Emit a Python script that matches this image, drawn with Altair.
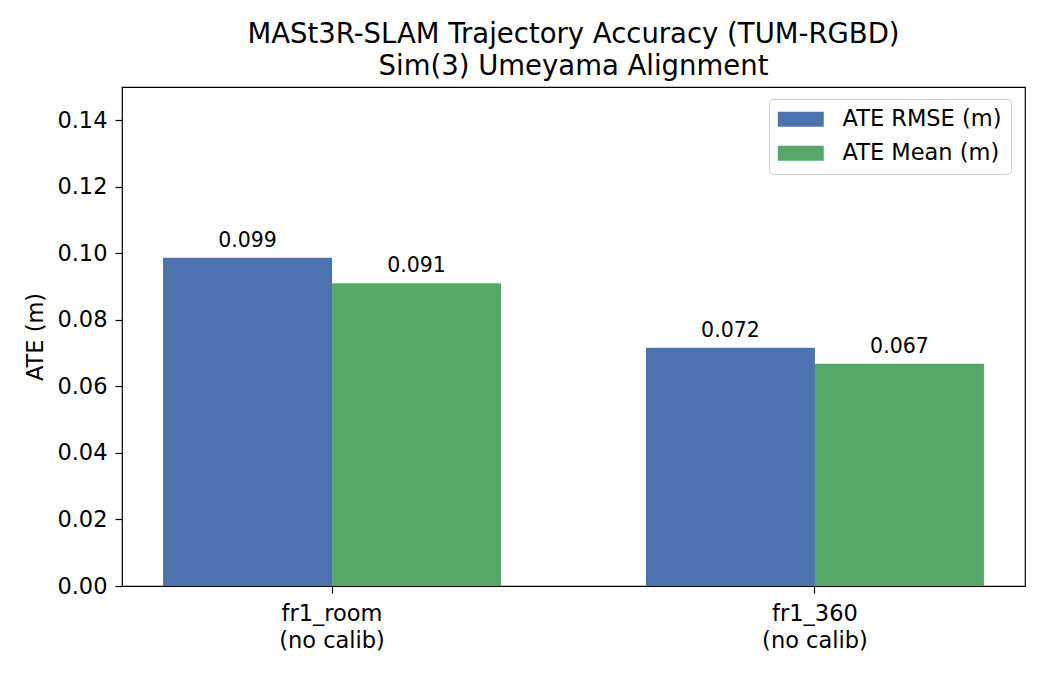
import altair as alt
import pandas as pd

categories = ["fr1_room\n(no calib)", "fr1_360\n(no calib)"]
series = ["ATE RMSE (m)", "ATE Mean (m)"]
ate_rmse = [0.0987, 0.0716]
ate_mean = [0.0910, 0.0668]
colors = ["#4C72B0", "#55A868"]
y_ticks = [0.00, 0.02, 0.04, 0.06, 0.08, 0.10, 0.12, 0.14]
title_lines = ["MASt3R-SLAM Trajectory Accuracy (TUM-RGBD)", "Sim(3) Umeyama Alignment"]

rows = []
for i, c in enumerate(categories):
    rows.append({"scene": c, "metric": series[0], "value": ate_rmse[i]})
    rows.append({"scene": c, "metric": series[1], "value": ate_mean[i]})
df = pd.DataFrame(rows)

TICK_FS = 22.5

x = alt.X(
    "scene:N",
    sort=categories,
    scale=alt.Scale(paddingInner=0.3, paddingOuter=0.085),
    axis=alt.Axis(
        title=None,
        labelAngle=0,
        labelExpr="split(datum.label, '\\n')",
        labelFontSize=TICK_FS,
        labelLineHeight=27,
        labelBaseline="top",
        labelPadding=9,
        labelColor="black",
        tickSize=7,
        tickWidth=1.2,
        tickColor="black",
        domain=False,
    ),
)
xo = alt.XOffset("metric:N", sort=series, scale=alt.Scale(paddingInner=0, paddingOuter=0))
y = alt.Y(
    "value:Q",
    scale=alt.Scale(domain=[0, 0.15], nice=False, zero=True),
    axis=alt.Axis(
        title="ATE (m)",
        values=y_ticks,
        format=".2f",
        grid=False,
        labelFontSize=TICK_FS,
        labelPadding=8,
        labelColor="black",
        tickSize=7,
        tickWidth=1.2,
        tickColor="black",
        domain=False,
        titleFontSize=TICK_FS,
        titleFontWeight="normal",
        titleColor="black",
        titleX=-80,
        titleY=249.5,
        titleAlign="center",
        titleBaseline="alphabetic",
        titleAngle=270,
    ),
)
color = alt.Color(
    "metric:N",
    sort=series,
    scale=alt.Scale(domain=series, range=colors),
    legend=alt.Legend(
        title=None,
        orient="none",
        legendX=647,
        legendY=12,
        padding=9,
        cornerRadius=4,
        strokeColor="#cccccc",
        fillColor="white",
        symbolType="M-1.53,-1H4.6V1H-1.53Z",
        symbolSize=225,
        symbolStrokeWidth=0,
        symbolOpacity=1,
        labelOffset=42,
        labelFontSize=TICK_FS,
        labelColor="black",
        labelLimit=400,
        rowPadding=11,
    ),
)

bars = alt.Chart(df).mark_bar(strokeWidth=0).encode(x=x, xOffset=xo, y=y, color=color)
text = alt.Chart(df).mark_text(dy=-11, fontSize=20.5, baseline="alphabetic", color="black").encode(
    x=x, xOffset=xo, y=y, text=alt.Text("value:Q", format=".3f")
)

chart = (
    alt.layer(bars, text)
    .properties(
        width=903,
        height=499,
        title=alt.TitleParams(
            text=title_lines,
            fontSize=27.5,
            fontWeight="normal",
            color="black",
            anchor="middle",
            frame="group",
            lineHeight=32,
            baseline="bottom",
            offset=-21,
        ),
        autosize=alt.AutoSizeParams(type="none"),
        padding={"left": 114, "top": 79, "right": 10, "bottom": 70},
    )
    .configure(font="DejaVu Sans")
    .configure_view(stroke="black", strokeWidth=1.2)
)

chart.save("out.html", embed_options={"renderer": "svg", "actions": False})
